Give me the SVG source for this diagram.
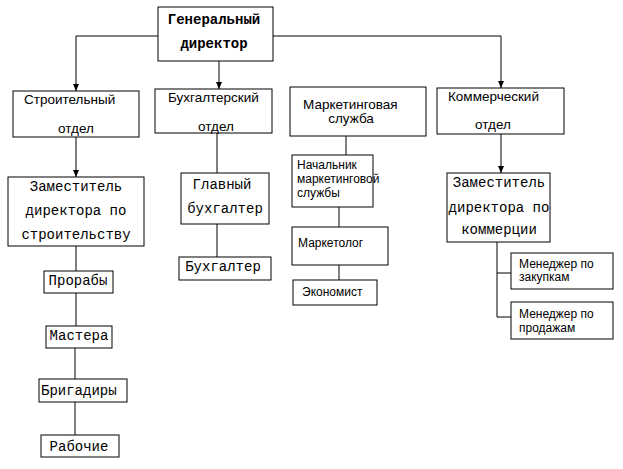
<svg xmlns="http://www.w3.org/2000/svg" width="623" height="469" viewBox="0 0 623 469">
<style>
rect{fill:#fff;stroke:#000;stroke-width:1}
.c line,.c polyline{stroke:#000;stroke-width:1;fill:none}
.m{font-family:"Courier New","Nimbus Mono PS","Nimbus Mono L","FreeMono","Liberation Mono",monospace;font-size:14px;fill:#000}
.b{font-weight:bold}
.s{font-family:"Liberation Sans",Arial,sans-serif;font-size:13.5px;fill:#000}
.t{font-family:"Liberation Sans",Arial,sans-serif;font-size:12px;fill:#000}
</style>
<defs>
<marker id="a" markerWidth="8" markerHeight="8" refX="7" refY="4" orient="auto" markerUnits="userSpaceOnUse">
<path d="M0,1 L7,4 L0,7 Z" fill="#000"/>
</marker>
</defs>
<rect width="623" height="469" style="stroke:none"/>
<g class="c" id="connectors">
<polyline points="158,36 76,36 76,91" marker-end="url(#a)"/>
<polyline points="273,36 501,36 501,88" marker-end="url(#a)"/>
<line x1="219" y1="61" x2="219" y2="89" marker-end="url(#a)"/>
<line x1="76" y1="137" x2="76" y2="177" marker-end="url(#a)"/>
<line x1="76" y1="246" x2="76" y2="271"/>
<line x1="76" y1="293" x2="76" y2="326"/>
<line x1="75" y1="348" x2="75" y2="379"/>
<line x1="75" y1="402" x2="75" y2="435"/>
<line x1="217" y1="133" x2="217" y2="173"/>
<line x1="217" y1="224" x2="217" y2="257"/>
<line x1="346" y1="136" x2="346" y2="155"/>
<line x1="339" y1="207" x2="339" y2="227"/>
<line x1="339" y1="265" x2="339" y2="280"/>
<line x1="501" y1="134" x2="501" y2="173" marker-end="url(#a)"/>
<polyline points="497,242 497,317 511,317"/>
<line x1="497" y1="273" x2="511" y2="273"/>
</g>
<g id="gen">
<rect x="158" y="7" width="115" height="54"/>
<text class="m b" x="214" y="24" text-anchor="middle">Генеральный</text>
<text class="m b" x="214" y="48" text-anchor="middle">директор</text>
</g>
<g id="stroy">
<rect x="13" y="91" width="126" height="46"/>
<text class="s" x="24" y="104">Строительный</text>
<text class="s" x="76" y="133" text-anchor="middle">отдел</text>
</g>
<g id="buh">
<rect x="155" y="89" width="117" height="44"/>
<text class="s" x="168" y="102">Бухгалтерский</text>
<text class="s" x="216" y="131" text-anchor="middle">отдел</text>
</g>
<g id="mark">
<rect x="290" y="87" width="136" height="49"/>
<text class="s" x="303" y="109">Маркетинговая</text>
<text class="s" x="351" y="123" text-anchor="middle">служба</text>
</g>
<g id="komm">
<rect x="437" y="88" width="127" height="46"/>
<text class="s" x="448" y="101">Коммерческий</text>
<text class="s" x="493" y="129" text-anchor="middle">отдел</text>
</g>
<g id="zam-stroy">
<rect x="8" y="177" width="136" height="69"/>
<text class="m" x="76" y="191" text-anchor="middle">Заместитель</text>
<text class="m" x="76" y="215" text-anchor="middle">директора по</text>
<text class="m" x="76" y="239" text-anchor="middle">строительству</text>
</g>
<g id="prorab">
<rect x="44" y="271" width="69" height="22"/>
<text class="m" x="78" y="285" text-anchor="middle">Прорабы</text>
</g>
<g id="master">
<rect x="46" y="326" width="66" height="22"/>
<text class="m" x="79" y="340" text-anchor="middle">Мастера</text>
</g>
<g id="brigad">
<rect x="39" y="379" width="88" height="23"/>
<text class="m" x="41" y="395">Бригадиры</text>
</g>
<g id="rab">
<rect x="41" y="435" width="78" height="22"/>
<text class="m" x="79" y="451" text-anchor="middle">Рабочие</text>
</g>
<g id="glav">
<rect x="181" y="173" width="88" height="51"/>
<text class="m" x="222" y="189" text-anchor="middle">Главный</text>
<text class="m" x="225" y="213" text-anchor="middle">бухгалтер</text>
</g>
<g id="buhg">
<rect x="179" y="257" width="92" height="23"/>
<text class="m" x="223" y="271" text-anchor="middle">Бухгалтер</text>
</g>
<g id="nach">
<rect x="292" y="155" width="81" height="52"/>
<text class="t" x="297" y="169">Начальник</text>
<text class="t" x="297" y="183">маркетинговой</text>
<text class="t" x="297" y="197">службы</text>
</g>
<g id="marketolog">
<rect x="292" y="227" width="96" height="38"/>
<text class="t" x="298" y="247">Маркетолог</text>
</g>
<g id="econ">
<rect x="293" y="280" width="84" height="25"/>
<text class="t" x="302" y="296">Экономист</text>
</g>
<g id="zam-komm">
<rect x="447" y="173" width="103" height="69"/>
<text class="m" x="499" y="187" text-anchor="middle">Заместитель</text>
<text class="m" x="499" y="212" text-anchor="middle">директора по</text>
<text class="m" x="499" y="234" text-anchor="middle">коммерции</text>
</g>
<g id="zakup">
<rect x="511" y="253" width="102" height="36"/>
<text class="t" x="519" y="268">Менеджер по</text>
<text class="t" x="519" y="281">закупкам</text>
</g>
<g id="prod">
<rect x="511" y="302" width="102" height="37"/>
<text class="t" x="519" y="318">Менеджер по</text>
<text class="t" x="519" y="332">продажам</text>
</g>
</svg>
